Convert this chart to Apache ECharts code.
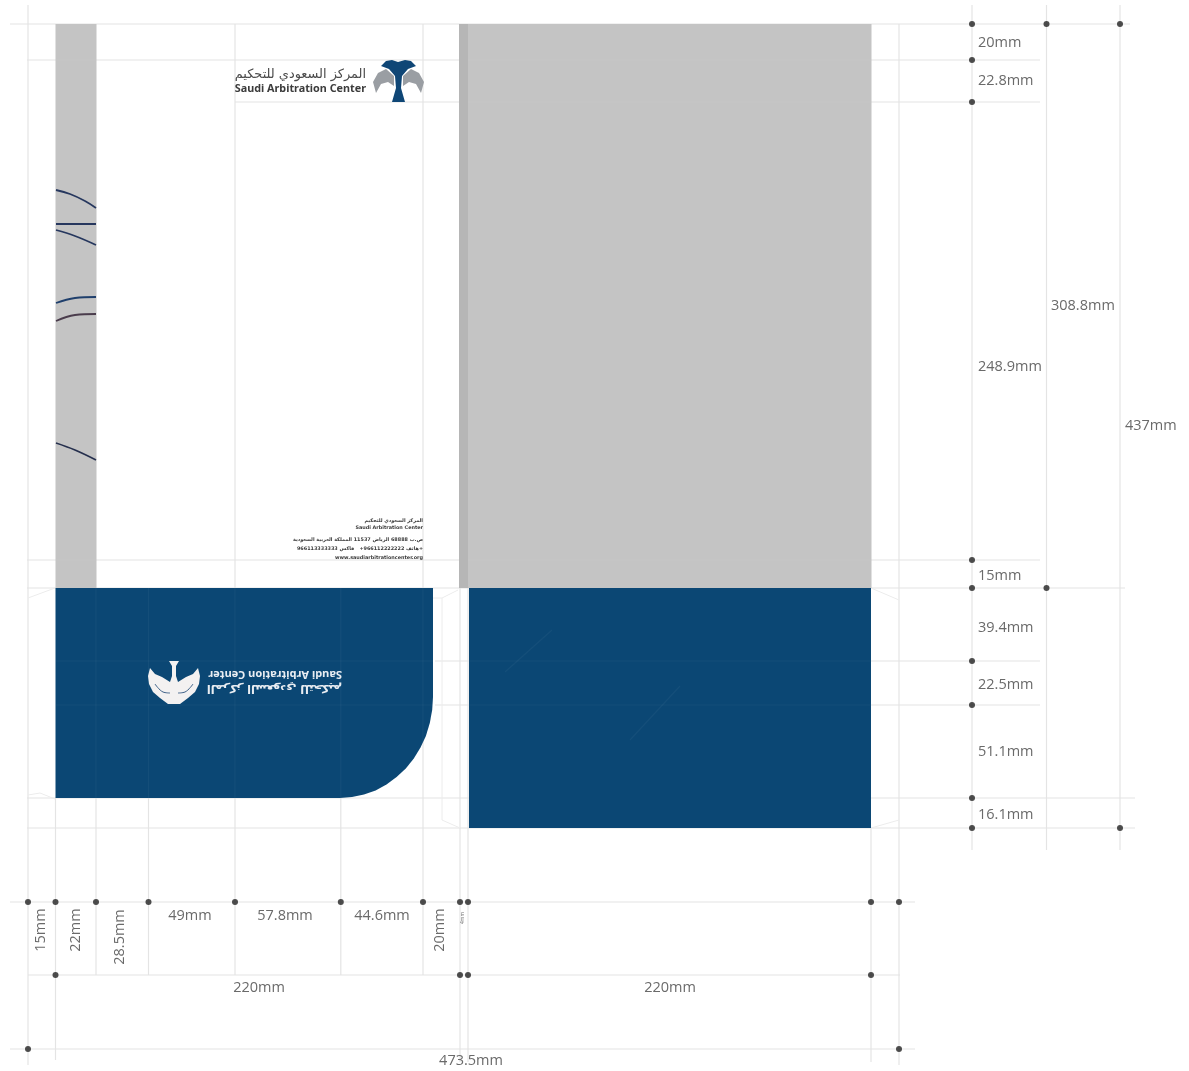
<!DOCTYPE html>
<html><head><meta charset="utf-8">
<style>html,body{margin:0;padding:0;background:#fff}#c{width:1189px;height:1071px}</style>
<script src="https://cdn.jsdelivr.net/npm/echarts@6/dist/echarts.min.js"></script>
</head><body><div id="c"></div>
<script>
const grayPanels = [[55.5,24,96.5,588],[459,24,871.5,588]];
const grayFold = [[459,24,468,588]];
const bluePanels = [[469,588,871,828]];
const pocketOutline = [[55.5,588],[433,588],[433,697],[432.2,710],[429.8,723],[425.9,736],[420.5,747.5],[413.8,758.5],[405.8,768.5],[396.6,777],[386.5,784.5],[375.6,790.5],[364,794.5],[352,797],[340,798],[55.5,798]];
const hGuides = [[10,1130,24],[27,1040,60],[235,1040,102],[27,1040,560],[27,1125,588],[435,1040,661],[435,1040,705],[27,1135,798],[27,1135,828],[10,915,902],[28,900,975],[10,915,1049]];
const vGuides = [[28,5,1065],[55.5,798,1060],[96,798,975],[148.5,798,975],[235,24,975],[340.8,798,975],[423,24,975],[460,24,1062],[468,24,1062],[871,828,1062],[899,24,1065],[972,5,850],[1046.5,5,850],[1120,5,850]];
const faintLines = [[55.5,661,433,661],[55.5,705,433,705],[469,661,871,661],[469,705,871,705],[96,588,96,798],[148.5,588,148.5,798],[235,588,235,798],[340.8,588,340.8,798],[423,588,423,798],[55.5,60,96.5,60],[505,672,552,630],[630,740,680,686],[468,60,871,60],[468,102,871,102],[468,560,871,560],[55.5,560,96.5,560]];
const flapLines = [[[28,598],[55,588]],[[28,795],[40,793],[55,799]],[[871,588],[899,600]],[[899,820],[871,828]],[[458,590],[442,598],[442,820],[460,828]],[[433,598],[442,598]]];
const dots = [[972,24],[1046.5,24],[1120,24],[972,60],[972,102],[972,560],[972,588],[1046.5,588],[972,661],[972,705],[972,798],[972,828],[1120,828],
 [28,902],[55.5,902],[96,902],[148.5,902],[235,902],[340.8,902],[423,902],[460,902],[468,902],[871,902],[899,902],[55.5,975],[460,975],[468,975],[871,975],[28,1049],[899,1049]];
const curves = [
 [[56,190],[70,194],[85,201],[96,208]],
 [[56,224],[96,224]],
 [[56,230],[75,236],[96,245]],
 [[56,303],[75,298],[96,297]],
 [[56,321],[75,315],[96,314]],
 [[56,443],[75,450],[96,460]]
];
const curveColors = ['#26375e','#26375e','#26375e','#1f3f6c','#4a3c4c','#26304e'];
const logoNavy = [[381,66],[386,61],[392,60],[398,62],[405,60],[411,61],[416,66],[408,69],[402,76],[401,88],[405,102],[392,102],[396,88],[395,76],[389,69]];
const logoGrayL = [[373,82],[378,73],[386,69],[394,76],[394,86],[388,82],[381,84],[376,93]];
const logoGrayR = [[424,82],[419,73],[411,69],[403,76],[403,86],[409,82],[416,84],[421,93]];
const logoWhite = [[169,661],[179,661],[176,666],[176,676],[178,682],[186,677],[193,674],[198,668],[200,676],[199,684],[195,692],[188,698],[180,704],[168,704],[160,698],[153,692],[149,684],[148,676],[150,668],[155,674],[162,677],[170,682],[172,676],[172,666]];
const logoInner = [[[155,684],[163,692],[170,693]],[[193,684],[185,692],[178,693]]];
const dimLabels = [
 ['20mm',978,43,'left',0],['22.8mm',978,81,'left',0],['248.9mm',978,367,'left',0],['15mm',978,576,'left',0],['39.4mm',978,628,'left',0],['22.5mm',978,685,'left',0],['51.1mm',978,752,'left',0],['16.1mm',978,815,'left',0],
 ['308.8mm',1051,306,'left',0],['437mm',1125,426,'left',0],
 ['49mm',190,916,'center',0],['57.8mm',285,916,'center',0],['44.6mm',382,916,'center',0],
 ['220mm',259,988,'center',0],['220mm',670,988,'center',0],['473.5mm',471,1061,'center',0],
 ['15mm',41,930,'center',90],['22mm',76,930,'center',90],['28.5mm',120,937,'center',90],['20mm',440,930,'center',90]
];
const brandLines = [
 ['المركز السعودي للتحكيم',366,75,'right',0,'12.9px "DejaVu Sans"','#4a4a4a'],
 ['Saudi Arbitration Center',366,89,'right',0,'bold 10.8px "Noto Sans"','#3c3c3c'],
 ['Saudi Arbitration Center',342,674,'left',180,'bold 11px "Noto Sans"','#e9edf2'],
 ['المركز السعودي للتحكيم',342,688,'left',180,'bold 11.3px "DejaVu Sans"','#e9edf2'],
 ['4mm',463,918,'center',90,'5px "Noto Sans"','#777777']
];
const addressLines = [
 ['المركز السعودي للتحكيم',423,521],['Saudi Arbitration Center',423,528],['ص.ب 68888 الرياض 11537 المملكة العربية السعودية',423,540],['هاتف 966112222222+   فاكس 966113333333+',423,549],['www.saudiarbitrationcenter.org',423,558]
];

const c = echarts.init(document.getElementById('c'),null,{renderer:'canvas'});
const rectSeries = (data,color,z)=>({type:'custom',coordinateSystem:'cartesian2d',silent:true,z,clip:false,data,
 renderItem:(p,api)=>{const a=api.coord([api.value(0),api.value(1)]),b=api.coord([api.value(2),api.value(3)]);
  return {type:'rect',shape:{x:a[0],y:a[1],width:b[0]-a[0],height:b[1]-a[1]},style:{fill:color}};}});
const polySeries = (pts,color,z)=>({type:'custom',coordinateSystem:'cartesian2d',silent:true,z,clip:false,data:[pts[0]],
 renderItem:(p,api)=>({type:'polygon',shape:{points:pts.map(q=>api.coord(q))},style:{fill:color}})});
const segSeries = (data,color,w,z)=>({type:'custom',coordinateSystem:'cartesian2d',silent:true,z,clip:false,data,
 renderItem:(p,api)=>{const a=api.coord([api.value(0),api.value(1)]),b=api.coord([api.value(2),api.value(3)]);
  return {type:'line',shape:{x1:a[0],y1:a[1],x2:b[0],y2:b[1]},style:{stroke:color,lineWidth:w}};}});
const pathSeries = (pts,color,w,z,smooth,type)=>({type:'line',data:pts,smooth:smooth,symbol:'none',silent:true,z,clip:false,lineStyle:{color,width:w,type:type||'solid'},animation:false});
const textSeries = (rows,z)=>({type:'custom',coordinateSystem:'cartesian2d',silent:true,z,clip:false,data:rows.map((r,i)=>[r[1],r[2],i]),
 renderItem:(p,api)=>{const r=rows[p.dataIndex],q=api.coord([r[1],r[2]]);
  return {type:'text',x:q[0],y:q[1],rotation:(r[4]||0)*Math.PI/180,style:{text:r[0],x:0,y:0,align:r[3],verticalAlign:'middle',font:r[5],fill:r[6]}};}});

const dimRows = dimLabels.map(d=>[...d,'14.5px "Open Sans"','#6a6a6a']);
const addrRows = addressLines.map(d=>[d[0],d[1],d[2],'right',0,'bold 4.9px "DejaVu Sans"','#3a3a3a']);

const series = [
 segSeries(hGuides.map(g=>[g[0],g[2],g[1],g[2]]),'#e4e4e4',1.2,1),
 segSeries(vGuides.map(g=>[g[0],g[1],g[0],g[2]]),'#e4e4e4',1.2,1),
 ...flapLines.map(f=>pathSeries(f,'#ececec',1,1,false)),
 rectSeries(grayPanels,'#c4c4c4',2),
 rectSeries(grayFold,'#b6b6b6',3),
 rectSeries(bluePanels,'#0b4774',2),
 polySeries(pocketOutline,'#0b4774',2),
 segSeries(faintLines,'rgba(255,255,255,0.04)',1.2,4),
 ...curves.map((cv,i)=>pathSeries(cv,curveColors[i],1.8,5,0.4)),
 polySeries(logoGrayL,'#9a9ea3',5),
 polySeries(logoGrayR,'#9a9ea3',5),
 polySeries(logoNavy,'#0f4676',6),
 polySeries(logoWhite,'#f3f1f1',5),
 ...logoInner.map(l=>pathSeries(l,'#3f6188',1,6,0.4)),
 textSeries(dimRows,7),
 textSeries(brandLines,7),
 textSeries(addrRows,7),
 {type:'scatter',data:dots,symbol:'circle',symbolSize:6,itemStyle:{color:'#222222'},silent:true,z:8,clip:false}
];
c.setOption({animation:false,tooltip:{show:false},legend:{show:false},
 grid:{left:0,right:0,top:0,bottom:0,containLabel:false},
 xAxis:{type:'value',min:0,max:1189,show:false},
 yAxis:{type:'value',min:0,max:1071,inverse:true,show:false},
 series});
</script></body></html>
